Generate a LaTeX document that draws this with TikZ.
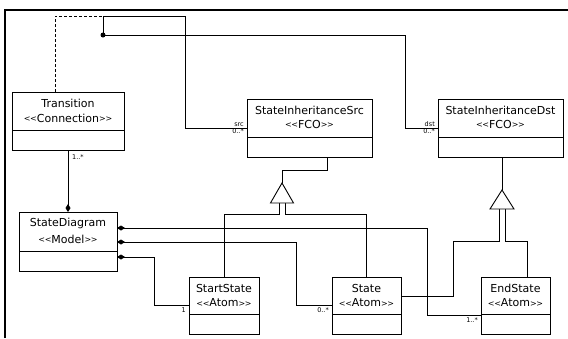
\documentclass[tikz,border=0pt]{standalone}
\usepackage{fontspec}
\setmainfont{DejaVu Sans}
\usetikzlibrary{arrows.meta}
\newcommand\stereo[1]{{\fontsize{8}{9}\selectfont\raisebox{0.4pt}{<\kern-0.3pt<}}#1{\fontsize{8}{9}\selectfont\raisebox{0.4pt}{>\kern-0.3pt>}}}
\begin{document}
\begin{tikzpicture}[x=1pt,y=-1pt,
  umlbox/.style={draw, line width=0.9pt, inner sep=0pt, outer sep=0pt, anchor=north west},
  nm/.style={font=\fontsize{11}{12}\selectfont, inner sep=0pt},
  lbl/.style={font=\fontsize{6.5}{7.5}\selectfont, inner sep=0pt},
  c/.style={line width=0.9pt},
  dia/.style={{Diamond[length=8pt,width=5pt]}-},
  tri/.style={line width=0.9pt, fill=white}]
\useasboundingbox (0,0) rectangle (568,338);
\draw[line width=2.2pt] (5,338) -- (5,10.3) -- (568,10.3);

% boxes
\node[umlbox, minimum width=112pt, minimum height=58pt] (trans) at (12,92) {};
\node[umlbox, minimum width=98pt, minimum height=59pt] (sd) at (19,212) {};
\node[umlbox, minimum width=125pt, minimum height=58pt] (src) at (247,99) {};
\node[umlbox, minimum width=125pt, minimum height=58pt] (dst) at (438,99) {};
\node[umlbox, minimum width=70pt, minimum height=57pt] (start) at (189,277) {};
\node[umlbox, minimum width=69pt, minimum height=57pt] (state) at (332,277) {};
\node[umlbox, minimum width=69pt, minimum height=57pt] (end) at (481,277) {};

\foreach \b in {trans,sd,src,dst,start,state,end}{
  \draw[c] ([yshift=19.5pt]\b.south west) -- ([yshift=19.5pt]\b.south east);
}

% texts
\node[nm] (transA) at ([yshift=-11pt]trans.north) {Transition};
\node[nm] (transB) at ([yshift=-26pt]trans.north) {\stereo{Connection}};
\node[nm] (sdA) at ([yshift=-11pt]sd.north) {StateDiagram};
\node[nm] (sdB) at ([yshift=-27pt]sd.north) {\stereo{Model}};
\node[nm] (srcA) at ([yshift=-11pt]src.north) {StateInheritanceSrc};
\node[nm] (srcB) at ([yshift=-25pt]src.north) {\stereo{FCO}};
\node[nm] (dstA) at ([yshift=-11pt]dst.north) {StateInheritanceDst};
\node[nm] (dstB) at ([yshift=-25pt]dst.north) {\stereo{FCO}};
\node[nm] (startA) at ([yshift=-11pt]start.north) {StartState};
\node[nm] (startB) at ([yshift=-26pt]start.north) {\stereo{Atom}};
\node[nm] (stateA) at ([yshift=-11pt]state.north) {State};
\node[nm] (stateB) at ([yshift=-26pt]state.north) {\stereo{Atom}};
\node[nm] (endA) at ([yshift=-11pt]end.north) {EndState};
\node[nm] (endB) at ([yshift=-26pt]end.north) {\stereo{Atom}};

% association Transition src/dst
\node[circle, fill, inner sep=0pt, minimum size=5pt] (dot) at (103,35) {};
\draw[c, dashed, dash pattern=on 3pt off 2pt] ([xshift=-13pt]trans.north) |- (103,16);
\draw[c] (dot.center) |- (185,16) |- (src.west);
\draw[c] (dot.center) -- (405,35) |- (dst.west);
\node[lbl, anchor=south east] (lsrc) at ([xshift=-3pt,yshift=1.5pt]src.west) {src};
\node[lbl, anchor=north east] (lsrcm) at ([xshift=-3pt,yshift=-0.5pt]src.west) {0..*};
\node[lbl, anchor=south east] (ldst) at ([xshift=-3pt,yshift=1.5pt]dst.west) {dst};
\node[lbl, anchor=north east] (ldstm) at ([xshift=-3pt,yshift=-0.5pt]dst.west) {0..*};

% containment
\draw[c, -{Diamond[length=8pt,width=5pt]}] (trans.south) -- (sd.north);
\node[lbl, anchor=north west] (ltr) at ([xshift=4pt,yshift=-4pt]trans.south) {1..*};

\coordinate (sd1) at ([yshift=-16pt]sd.north east);
\coordinate (sd2) at ([yshift=-30pt]sd.north east);
\coordinate (sd3) at ([yshift=-45pt]sd.north east);
\draw[c, dia] (sd1) -| (427,315) -- ([yshift=19pt]end.south west);
\draw[c, dia] (sd2) -| (296,305.5) -- (state.west);
\draw[c, dia] (sd3) -| (154,305.5) -- (start.west);
\node[lbl, anchor=north east] (l1) at ([xshift=-3pt,yshift=-2pt]end.south west |- 0,315) {1..*};
\node[lbl, anchor=north east] (l2) at ([xshift=-3pt,yshift=-2pt]state.west) {0..*};
\node[lbl, anchor=north east] (l3) at ([xshift=-3pt,yshift=-2pt]start.west) {1};

% inheritance src
\coordinate (t1) at (282,183);
\coordinate (t1b) at (282,203);
\draw[c] ([xshift=17.5pt]src.south) |- (282,170) -- (t1);
\draw[c] ([xshift=-3pt]t1b) -- ++(0,11) -| (start.north);
\draw[c] ([xshift=3pt]t1b) -- ++(0,11) -| (state.north);
\draw[tri] (t1) -- ([xshift=-11.5pt]t1b) -- ([xshift=11.5pt]t1b) -- cycle;

% inheritance dst
\coordinate (t2) at (502,190);
\coordinate (t2b) at (502,209);
\draw[c] ([xshift=1.5pt]dst.south) -- (t2);
\draw[c] ([xshift=-3pt]t2b) |- (453,241) |- ([yshift=9.5pt]state.east);
\draw[c] ([xshift=3pt]t2b) -- ++(0,32) -| ([xshift=11.5pt]end.north);
\draw[tri] (t2) -- ([xshift=-12pt]t2b) -- ([xshift=12pt]t2b) -- cycle;
\end{tikzpicture}
\end{document}
